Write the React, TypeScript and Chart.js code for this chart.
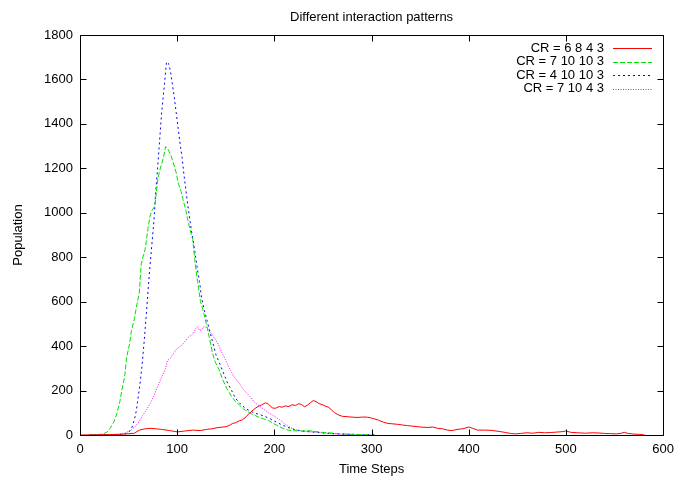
import React, { useEffect, useRef } from "react";
import { Chart, registerables } from "chart.js";
Chart.register(...registerables);

const TITLE = "Different interaction patterns";
const X_LABEL = "Time Steps";
const Y_LABEL = "Population";
const X_TICKS = [0, 100, 200, 300, 400, 500, 600];
const Y_TICKS = [0, 200, 400, 600, 800, 1000, 1200, 1400, 1600, 1800];
const SERIES_LABELS = ["CR = 6 8 4 3", "CR = 7 10 10 3", "CR = 4 10 10 3", "CR = 7 10 4 3"];

const redT = [0, 20, 40, 48, 56, 61, 66, 72, 78, 84, 92, 100, 108, 116, 124, 130, 136, 140, 145, 150, 154, 157, 160, 164, 167, 171, 174, 178, 181, 184, 187, 191, 194, 198, 201, 205, 208, 211, 215, 218, 222, 225, 228, 231, 234, 237, 240, 243, 246, 249, 252, 256, 259, 262, 266, 270, 276, 281, 286, 291, 296, 301, 307, 312, 317, 322, 327, 332, 337, 342, 348, 353, 358, 363, 368, 373, 378, 383, 388, 394, 400, 404, 409, 416, 423, 428, 433, 438, 443, 448, 453, 460, 466, 472, 478, 484, 490, 496, 500, 505, 512, 520, 527, 534, 540, 546, 552, 557, 560, 564, 570, 576, 581];
const redV = [0, 1, 3, 5, 8, 22, 27, 30, 28, 25, 20, 14, 18, 22, 20, 25, 28, 32, 35, 37, 44, 52, 55, 64, 68, 82, 97, 112, 122, 130, 136, 145, 138, 122, 120, 128, 125, 131, 128, 136, 133, 141, 137, 127, 134, 145, 155, 150, 141, 137, 131, 124, 112, 100, 90, 84, 82, 80, 79, 81, 80, 75, 67, 58, 52, 50, 48, 45, 42, 40, 37, 35, 34, 36, 30, 28, 22, 20, 25, 28, 36, 30, 22, 22, 21, 18, 15, 11, 7, 5, 7, 10, 8, 12, 10, 11, 13, 15, 18, 12, 10, 8, 10, 9, 7, 6, 5, 8, 12, 7, 4, 3, 0];

const greenT = [10, 18, 24, 28, 31, 35, 38, 41, 43, 46, 48, 51, 53, 56, 58, 61, 63, 65, 67, 70, 72, 74, 77, 80, 82, 84, 86, 88, 90, 93, 96, 99, 101, 104, 106, 109, 111, 114, 116, 118, 121, 124, 127, 130, 133, 136, 139, 143, 147, 151, 155, 160, 164, 168, 172, 176, 180, 184, 189, 194, 199, 204, 209, 214, 220, 228, 235, 242, 249, 256, 264, 272, 280, 288, 296, 300];
const greenV = [0, 2, 5, 14, 30, 60, 97, 150, 200, 265, 350, 410, 470, 525, 575, 640, 770, 805, 835, 930, 985, 1010, 1030, 1150, 1190, 1220, 1250, 1298, 1290, 1265, 1225, 1180, 1135, 1095, 1060, 1010, 965, 910, 880, 790, 690, 600, 555, 500, 440, 375, 330, 295, 248, 210, 180, 150, 135, 118, 106, 96, 88, 80, 72, 65, 52, 40, 30, 22, 19, 18, 20, 16, 12, 10, 7, 5, 3, 2, 1, 0];

const blueT = [10, 30, 40, 46, 49, 53, 56, 58, 60, 62, 64, 66, 68, 70, 72, 74, 76, 78, 80, 82, 84, 86, 88, 89, 91, 93, 95, 97, 99, 101, 103, 105, 107, 109, 111, 113, 115, 117, 119, 121, 123, 125, 128, 131, 134, 137, 140, 144, 148, 152, 156, 160, 165, 170, 175, 180, 185, 190, 196, 202, 208, 214, 221, 228, 235, 242, 249, 256, 264, 272, 280, 290, 300, 306];
const blueV = [0, 1, 2, 4, 8, 28, 70, 110, 175, 240, 320, 420, 530, 650, 760, 860, 960, 1100, 1210, 1330, 1450, 1540, 1630, 1680, 1672, 1640, 1580, 1520, 1450, 1380, 1310, 1250, 1170, 1100, 1030, 970, 910, 860, 800, 740, 690, 620, 560, 510, 460, 410, 360, 318, 275, 232, 200, 165, 140, 120, 108, 98, 92, 84, 72, 58, 45, 34, 24, 18, 15, 13, 10, 7, 5, 4, 3, 2, 1, 0];

const magentaT = [10, 25, 35, 42, 47, 52, 56, 60, 64, 68, 72, 76, 79, 82, 85, 88, 90, 93, 96, 99, 102, 105, 108, 111, 114, 117, 119, 121, 123, 125, 127, 129, 131, 133, 135, 137, 140, 143, 146, 149, 152, 155, 158, 161, 164, 167, 170, 173, 176, 179, 182, 186, 190, 194, 198, 202, 206, 210, 214, 218, 222, 228, 235, 242, 249, 256, 263, 270, 276, 290];
const magentaV = [0, 1, 2, 5, 10, 20, 35, 55, 85, 110, 140, 175, 210, 240, 270, 300, 335, 345, 365, 385, 395, 405, 420, 438, 448, 460, 478, 488, 470, 473, 486, 487, 478, 466, 458, 445, 427, 400, 370, 345, 316, 290, 265, 248, 232, 212, 196, 182, 168, 150, 138, 126, 113, 100, 90, 79, 67, 52, 40, 30, 23, 18, 15, 12, 9, 7, 5, 3, 1, 0];

const SERIES_T = [redT, greenT, blueT, magentaT];
const SERIES_V = [redV, greenV, blueV, magentaV];
const SERIES_COLORS = ["#ff0000", "#00e000", "#0000ff", "#ff00ff"];
const SERIES_DASH: number[][] = [[], [5, 2], [2, 3], [1, 1.5]];

const FONT = "'Liberation Sans', Arial, Helvetica, sans-serif";
const FS = 13;

const framePlugin = {
  id: "frame",
  afterDraw(chart: any) {
    const { ctx, chartArea } = chart;
    const { left, right, top, bottom } = chartArea;
    const xs = chart.scales.x;
    const ys = chart.scales.y;
    ctx.save();
    ctx.strokeStyle = "#000";
    ctx.lineWidth = 1;
    ctx.setLineDash([]);
    const L = Math.round(left) + 0.5;
    const R = Math.round(right) + 0.5;
    const T = Math.round(top) + 0.5;
    const B = Math.round(bottom) + 0.5;
    ctx.beginPath();
    ctx.rect(L, T, R - L, B - T);
    const tl = 6;
    X_TICKS.forEach((v) => {
      const x = Math.round(xs.getPixelForValue(v)) + 0.5;
      ctx.moveTo(x, B);
      ctx.lineTo(x, B - tl);
      ctx.moveTo(x, T);
      ctx.lineTo(x, T + tl);
    });
    Y_TICKS.forEach((v) => {
      const y = Math.round(ys.getPixelForValue(v)) + 0.5;
      ctx.moveTo(L, y);
      ctx.lineTo(L + tl, y);
      ctx.moveTo(R, y);
      ctx.lineTo(R - tl, y);
    });
    ctx.stroke();

    // texts
    ctx.fillStyle = "#000";
    ctx.font = `${FS}px ${FONT}`;
    ctx.textAlign = "center";
    ctx.textBaseline = "middle";
    const cx = (left + right) / 2;
    ctx.fillText(TITLE, cx, 17);
    ctx.fillText(X_LABEL, cx, 469);
    ctx.save();
    ctx.translate(18, (top + bottom) / 2);
    ctx.rotate(-Math.PI / 2);
    ctx.fillText(Y_LABEL, 0, 0);
    ctx.restore();

    // legend
    const rows = [48, 61.5, 75, 88.5];
    chart.data.datasets.forEach((ds: any, i: number) => {
      const y = rows[i];
      ctx.textAlign = "right";
      ctx.fillStyle = "#000";
      ctx.fillText(ds.label, 604, y);
      ctx.beginPath();
      ctx.strokeStyle = ds.borderColor;
      ctx.lineWidth = 1;
      ctx.setLineDash(ds.borderDash || []);
      const yy = Math.round(y) + 0.5;
      ctx.moveTo(613, yy);
      ctx.lineTo(652, yy);
      ctx.stroke();
    });
    ctx.restore();
  },
};

export default function App() {
  const ref = useRef<HTMLCanvasElement | null>(null);
  useEffect(() => {
    if (!ref.current) return;
    const datasets = SERIES_LABELS.map((label, i) => ({
      label,
      data: SERIES_T[i].map((t, j) => ({ x: t, y: SERIES_V[i][j] })),
      borderColor: SERIES_COLORS[i],
      backgroundColor: SERIES_COLORS[i],
      borderWidth: 1,
      borderDash: SERIES_DASH[i],
      pointRadius: 0,
      tension: 0,
      fill: false,
    }));
    const chart = new Chart(ref.current, {
      type: "line",
      data: { datasets },
      options: {
        animation: false,
        responsive: false,
        maintainAspectRatio: false,
        devicePixelRatio: 1,
        layout: { padding: { top: 35, right: 14, left: 0, bottom: 0 } },
        plugins: {
          legend: { display: false },
          title: { display: false },
          tooltip: { enabled: false },
        },
        scales: {
          x: {
            type: "linear",
            min: 0,
            max: 600,
            grid: { display: false, drawTicks: false },
            border: { display: false },
            ticks: {
              stepSize: 100,
              padding: 7,
              color: "#000",
              font: { family: FONT, size: FS },
              maxRotation: 0,
              callback: (v: any) => String(v),
            },
            afterFit: (s: any) => {
              s.height = 44;
            },
          },
          y: {
            type: "linear",
            min: 0,
            max: 1800,
            grid: { display: false, drawTicks: false },
            border: { display: false },
            ticks: {
              stepSize: 200,
              padding: 7,
              color: "#000",
              font: { family: FONT, size: FS },
              callback: (v: any) => String(v),
            },
            afterFit: (s: any) => {
              s.width = 80;
            },
          },
        },
      },
      plugins: [framePlugin],
    });
    return () => chart.destroy();
  }, []);
  return (
    <div style={{ position: "fixed", left: 0, top: 0, width: 681, height: 479, background: "#fff" }}>
      <canvas ref={ref} width={681} height={479} style={{ width: 681, height: 479, display: "block" }} />
    </div>
  );
}
